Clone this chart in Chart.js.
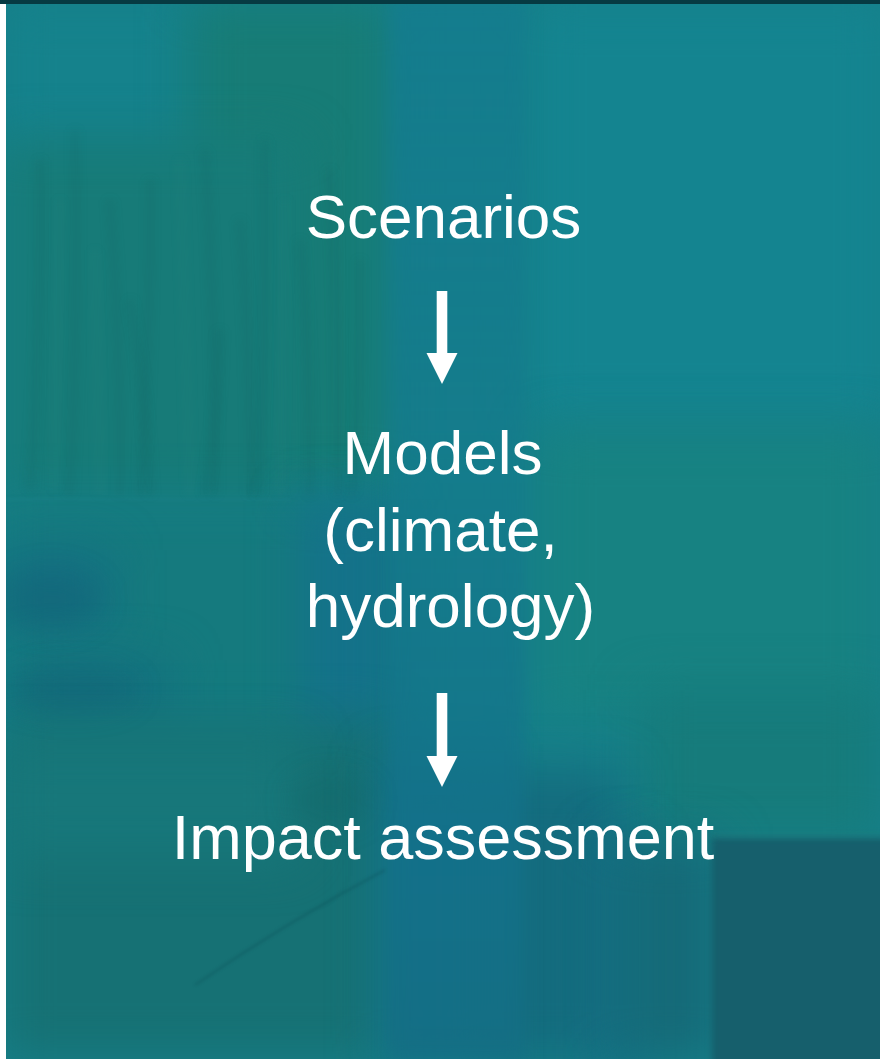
<!DOCTYPE html>
<html>
<head>
<meta charset="utf-8">
<script src="https://cdn.jsdelivr.net/npm/chart.js@4.4.1/dist/chart.umd.min.js"></script>
<style>
  html, body { margin: 0; padding: 0; background: #16808a; overflow: hidden; }
  #wrap { width: 880px; height: 1059px; position: relative; }
  canvas { display: block; }
</style>
</head>
<body>
<div id="wrap"><canvas id="c" width="880" height="1059"></canvas></div>
<script>
// ---- data (slide flow: stages and the arrows linking them) ----
const stageLines   = ["Scenarios", "Models", "(climate,", "hydrology)", "Impact assessment"];
const stageX       = [443.5, 442.5, 440.5, 450.5, 443];
const stageY       = [238, 474, 551, 627, 859];      // text baselines
const arrowX       = [442, 442];
const arrowStartY  = [291, 693];
const arrowEndY    = [384, 787];

// ---- styling ----
const FONT = '"Liberation Sans", Arial, Helvetica, sans-serif';
const stageFontSize = [62, 62, 62, 62, 63];

function drawBackground(chart) {
  const ctx = chart.ctx;
  const W = chart.width, H = chart.height;
  ctx.save();
  ctx.fillStyle = '#16808a';
  ctx.fillRect(0, 0, W, H);

  // soft blocks (blurred)
  ctx.filter = 'blur(24px)';
  const soft = [
    [0, 0, 200, 150, '#15828c'],
    [190, 0, 200, 480, '#177c76'],
    [0, 140, 300, 360, '#177b78'],
    [530, 0, 360, 420, '#148490'],
    [540, 430, 340, 290, '#178282'],
    [640, 690, 240, 150, '#167b7b'],
    [0, 500, 390, 220, '#157a7e'],
    [0, 550, 110, 80, '#146f82'],
    [20, 660, 150, 60, '#14707f'],
    [300, 500, 100, 300, '#14728a'],
    [0, 720, 390, 340, '#167174'],
    [0, 740, 300, 120, '#17777a'],
    [380, 760, 110, 300, '#146f86'],
    [480, 770, 140, 290, '#146c7e'],
    [600, 840, 40, 220, '#146b82'],
    [620, 840, 100, 220, '#156a78'],
  ];
  for (const [x, y, w, h, c] of soft) { ctx.fillStyle = c; ctx.fillRect(x, y, w, h); }

  // central bluish column
  ctx.filter = 'blur(8px)';
  const colGrad = ctx.createLinearGradient(0, 0, 0, H);
  colGrad.addColorStop(0, 'rgba(20,124,142,0.85)');
  colGrad.addColorStop(0.45, 'rgba(20,122,140,0.7)');
  colGrad.addColorStop(0.8, 'rgba(19,113,138,0.8)');
  colGrad.addColorStop(1, 'rgba(20,110,132,0.8)');
  ctx.fillStyle = colGrad;
  ctx.fillRect(390, 0, 135, H);

  // grass streaks in top-left
  ctx.filter = 'blur(4px)';
  ctx.strokeStyle = 'rgba(10,85,85,0.16)';
  const streaks = [[40,160,30,490],[75,130,70,495],[110,200,120,495],[150,180,140,495],
                   [205,150,215,495],[240,220,250,495],[265,140,258,495],[300,240,310,495],
                   [330,170,338,495],[360,260,352,495],[130,300,150,495],[220,330,205,495]];
  ctx.lineWidth = 6;
  for (const [x1,y1,x2,y2] of streaks) {
    ctx.beginPath(); ctx.moveTo(x1,y1); ctx.quadraticCurveTo((x1+x2)/2+6,(y1+y2)/2,x2,y2); ctx.stroke();
  }
  ctx.strokeStyle = 'rgba(60,150,140,0.12)';
  ctx.lineWidth = 5;
  const light = [[60,200,55,490],[180,160,190,495],[285,200,280,495],[95,250,100,495]];
  for (const [x1,y1,x2,y2] of light) {
    ctx.beginPath(); ctx.moveTo(x1,y1); ctx.lineTo(x2,y2); ctx.stroke();
  }

  // dark blobs lower-left
  ctx.filter = 'blur(14px)';
  ctx.fillStyle = 'rgba(16,95,115,0.35)';
  ctx.beginPath(); ctx.ellipse(50, 600, 50, 28, 0, 0, Math.PI*2); ctx.fill();
  ctx.beginPath(); ctx.ellipse(70, 690, 65, 20, 0, 0, Math.PI*2); ctx.fill();
  ctx.fillStyle = 'rgba(18,100,100,0.3)';
  ctx.beginPath(); ctx.ellipse(330, 800, 40, 25, 0, 0, Math.PI*2); ctx.fill();

  // darker block bottom right
  ctx.filter = 'blur(3px)';
  ctx.fillStyle = '#165f6c';
  ctx.fillRect(712, 838, 180, 230);
  ctx.fillStyle = 'rgba(40,130,130,0.35)';
  ctx.fillRect(712, 834, 180, 3);

  // subtle horizontal edge at y=500 on left
  ctx.filter = 'blur(1.5px)';
  ctx.fillStyle = 'rgba(30,130,140,0.35)';
  ctx.fillRect(0, 498, 290, 3);

  // thin dark line lower-left
  ctx.filter = 'blur(1.5px)';
  ctx.strokeStyle = 'rgba(10,70,80,0.3)';
  ctx.lineWidth = 2;
  ctx.beginPath(); ctx.moveTo(195, 985); ctx.quadraticCurveTo(290, 920, 385, 870); ctx.stroke();

  ctx.filter = 'none';
  // top dark bar and left white strip
  ctx.fillStyle = '#063a42';
  ctx.fillRect(0, 0, W, 4);
  ctx.fillStyle = '#ffffff';
  ctx.fillRect(0, 4, 6, H - 4);
  ctx.restore();
}

const flowPlugin = {
  id: 'flow',
  beforeDraw(chart) { drawBackground(chart); },
  afterDatasetsDraw(chart) {
    const ctx = chart.ctx;
    const xs = chart.scales.x, ys = chart.scales.y;
    ctx.save();
    ctx.fillStyle = '#ffffff';
    // arrows
    const shaftW = 10.6, headW = 31, headL = 31;
    for (let i = 0; i < arrowX.length; i++) {
      const cx = xs.getPixelForValue(arrowX[i]);
      const y0 = ys.getPixelForValue(arrowStartY[i]);
      const y1 = ys.getPixelForValue(arrowEndY[i]);
      ctx.beginPath();
      ctx.moveTo(cx - shaftW/2, y0);
      ctx.lineTo(cx + shaftW/2, y0);
      ctx.lineTo(cx + shaftW/2, y1 - headL);
      ctx.lineTo(cx + headW/2, y1 - headL);
      ctx.lineTo(cx, y1);
      ctx.lineTo(cx - headW/2, y1 - headL);
      ctx.lineTo(cx - shaftW/2, y1 - headL);
      ctx.closePath();
      ctx.fill();
    }
    // labels
    ctx.textAlign = 'center';
    ctx.textBaseline = 'alphabetic';
    const meta = chart.getDatasetMeta(0);
    meta.data.forEach((pt, i) => {
      ctx.font = stageFontSize[i] + 'px ' + FONT;
      ctx.fillText(stageLines[i], pt.x, pt.y);
    });
    ctx.restore();
  }
};

new Chart(document.getElementById('c'), {
  type: 'scatter',
  data: {
    datasets: [{
      label: 'Stages',
      data: stageLines.map((_, i) => ({ x: stageX[i], y: stageY[i] })),
      pointRadius: 0,
      pointHoverRadius: 0
    }]
  },
  options: {
    responsive: false,
    animation: false,
    events: [],
    layout: { padding: 0 },
    plugins: { legend: { display: false }, tooltip: { enabled: false } },
    scales: {
      x: { type: 'linear', min: 0, max: 880, display: false },
      y: { type: 'linear', min: 0, max: 1059, reverse: true, display: false }
    }
  },
  plugins: [flowPlugin]
});
</script>
</body>
</html>
